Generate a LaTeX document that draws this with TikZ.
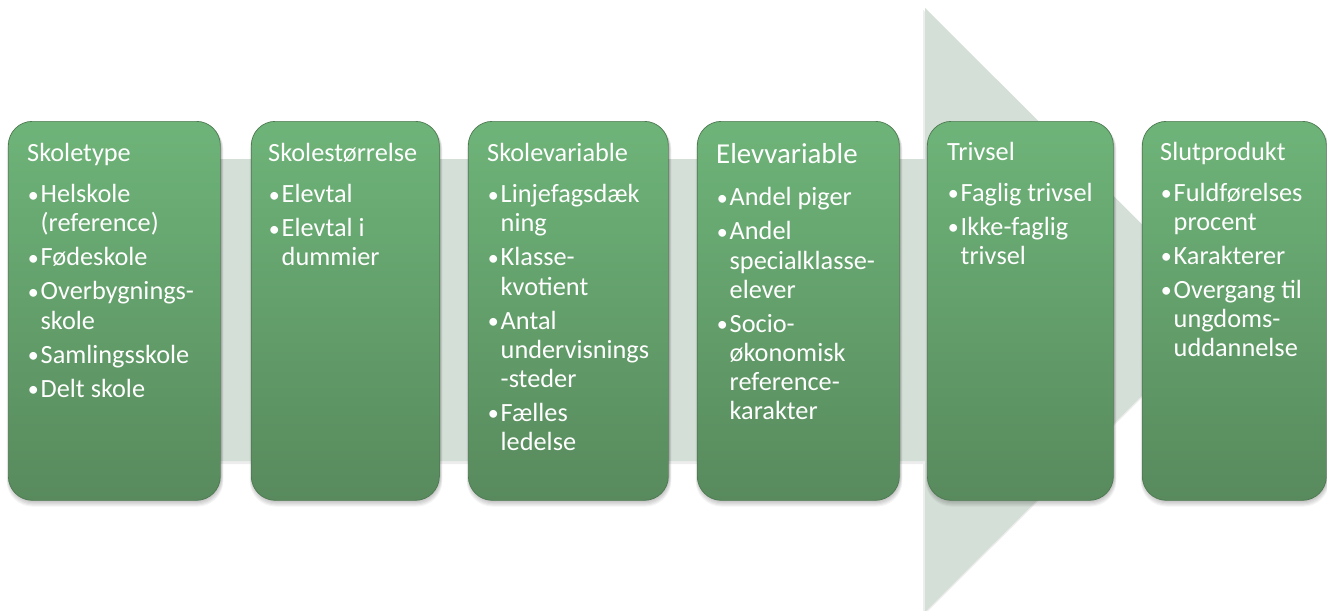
\documentclass[tikz,border=0pt]{standalone}
\usepackage{fontspec}
\setmainfont{Carlito}
\usetikzlibrary{calc}

\definecolor{arrowfill}{RGB}{212,223,215}
\definecolor{boxtop}{RGB}{110,180,121}
\definecolor{boxbot}{RGB}{88,138,93}
\definecolor{boxedge}{RGB}{78,122,82}

% small bullet in front of each entry
\newcommand\dotmark{\hbox to 13.5pt{\hskip 0.6pt\raisebox{0.6pt}{\fontsize{22pt}{22pt}\selectfont •}\hfil}}
% one bulleted entry with a hanging indent; \nl breaks a line inside it
\newcommand\itm[1]{\par\hangindent=13.5pt\hangafter=1\noindent\dotmark #1}
\newcommand\nl{\hfil\break}
% heading plus its list; the baseline of the box is the heading's baseline
\newcommand\stagetext[3][7pt]{\vtop{\hsize=300pt\parindent=0pt\parskip=0pt
  \hyphenpenalty=10000\exhyphenpenalty=10000
  \fontsize{26.3pt}{29.2pt}\selectfont #2\par\vskip #1\parskip=4.8pt #3\par}}

\tikzset{
  stagebox/.style={rounded corners=24pt, top color=boxtop, bottom color=boxbot,
    draw=boxedge, line width=0.7pt, inner sep=0pt, anchor=north west, minimum height=379pt},
  stagetxt/.style={anchor=base west, inner sep=0pt, text=white},
  flowarrow/.style={fill=arrowfill},
}

\begin{document}
\begin{tikzpicture}[x=1pt,y=-1pt]
\path[use as bounding box] (0,0) rectangle (1327,610);
\fill[white] (0,0) rectangle (1327,610);
\begin{scope}
\clip (0,0) rectangle (1327,610);

% broad background arrow, with a faint shadow
\fill[black,opacity=0.07] (29,161) -- (923,161) -- (923,10) -- (1227,313) -- (923,616) -- (923,464) -- (29,464) -- cycle;
\fill[flowarrow] (30,159) -- (925,159) -- (925,8) -- (1228,310) -- (925,612) -- (925,461) -- (30,461) -- cycle;

% soft shadows under the stage boxes
\foreach \l/\r in {8/220, 251/439, 468/668, 697/899, 927/1113, 1142/1326}{
  \foreach \s in {1,...,6}{
    \fill[black,opacity=0.045,rounded corners=26pt]
      (\l+1-0.4*\s,123) rectangle (\r+1+0.4*\s,500+1.1*\s);
  }
}
\end{scope}

% stage boxes
\node[stagebox, minimum width=212pt] (b1) at (8,121) {};
\node[stagebox, minimum width=188pt] (b2) at (251,121) {};
\node[stagebox, minimum width=200pt] (b3) at (468,121) {};
\node[stagebox, minimum width=202pt] (b4) at (697,121) {};
\node[stagebox, minimum width=186pt] (b5) at (927,121) {};
\node[stagebox, minimum width=184pt] (b6) at (1142,121) {};

% box contents
\node[stagetxt] (t1) at (27,161.7) {\stagetext{Skoletype}{%
  \itm{Helskole\nl (reference)}\itm{Fødeskole}\itm{Overbygnings-\nl skole}%
  \itm{Samlingsskole}\itm{Delt skole}}};
\node[stagetxt] (t2) at (268,161.7) {\stagetext{Skolestørrelse}{%
  \itm{Elevtal}\itm{Elevtal i\nl dummier}}};
\node[stagetxt] (t3) at (487,161.7) {\stagetext{Skolevariable}{%
  \itm{Linjefagsdæk\nl ning}\itm{Klasse-\nl kvotient}%
  \itm{Antal\nl undervisnings\nl -steder}\itm{Fælles\nl ledelse}}};
\node[stagetxt] (t4) at (716,163.3) {\stagetext[8.5pt]{{\fontsize{28.9pt}{29.2pt}\selectfont Elevvariable}}{%
  \itm{Andel piger}\itm{Andel\nl specialklasse-\nl elever}%
  \itm{Socio-\nl økonomisk\nl reference-\nl karakter}}};
\node[stagetxt] (t5) at (947,160.5) {\stagetext{Trivsel}{%
  \itm{Faglig trivsel}\itm{Ikke-faglig\nl trivsel}}};
\node[stagetxt] (t6) at (1160,160) {\stagetext{Slutprodukt}{%
  \itm{Fuldførelses\nl procent}\itm{Karakterer}%
  \itm{Overgang til\nl ungdoms-\nl uddannelse}}};
\end{tikzpicture}
\end{document}
